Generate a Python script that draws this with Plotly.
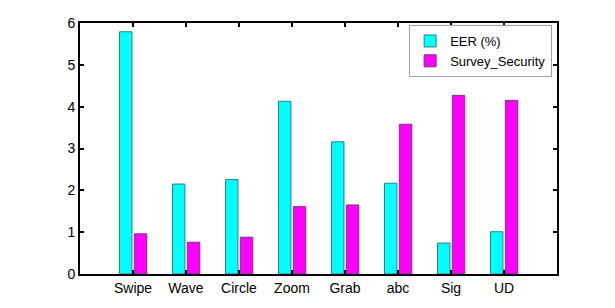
import plotly.graph_objects as go

categories = ["Swipe", "Wave", "Circle", "Zoom", "Grab", "abc", "Sig", "UD"]
eer = [5.79, 2.15, 2.26, 4.13, 3.16, 2.17, 0.74, 1.01]
survey = [0.96, 0.76, 0.88, 1.61, 1.65, 3.58, 4.27, 4.15]
y_ticks = [0, 1, 2, 3, 4, 5, 6]

x = list(range(1, len(categories) + 1))
FONT = "Liberation Sans, Arial, Helvetica, sans-serif"

fig = go.Figure()
fig.add_trace(go.Bar(
    x=x, y=eer, name="EER (%)", width=0.235, offset=-0.255,
    marker=dict(color="#00FFFF", line=dict(color="#2f7f7f", width=1)),
))
fig.add_trace(go.Bar(
    x=x, y=survey, name="Survey_Security", width=0.235, offset=0.025,
    marker=dict(color="#FF00FF", line=dict(color="#7f2f7f", width=1)),
))

axis_common = dict(
    showline=True, linecolor="black", linewidth=2, mirror="ticks",
    ticks="inside", ticklen=4, tickwidth=1.5, tickcolor="black",
    showgrid=False, zeroline=False,
    tickfont=dict(family=FONT, size=14, color="black"),
)

fig.update_layout(
    width=615, height=308,
    margin=dict(l=80, r=58, t=23, b=34),
    paper_bgcolor="white", plot_bgcolor="white",
    barmode="overlay",
    showlegend=True,
    legend=dict(
        x=0.69, y=0.992, xanchor="left", yanchor="top",
        bgcolor="white", bordercolor="#a0a0a0", borderwidth=1,
        font=dict(family=FONT, size=13, color="black"),
        tracegroupgap=0, itemwidth=30,
    ),
    xaxis=dict(range=[0, 9], tickvals=x, ticktext=categories, **axis_common),
    yaxis=dict(range=[0, 6], tickvals=y_ticks, **axis_common),
)

fig.write_html("out.html", config={"displayModeBar": False},
               post_script="document.body.style.margin='0';")
